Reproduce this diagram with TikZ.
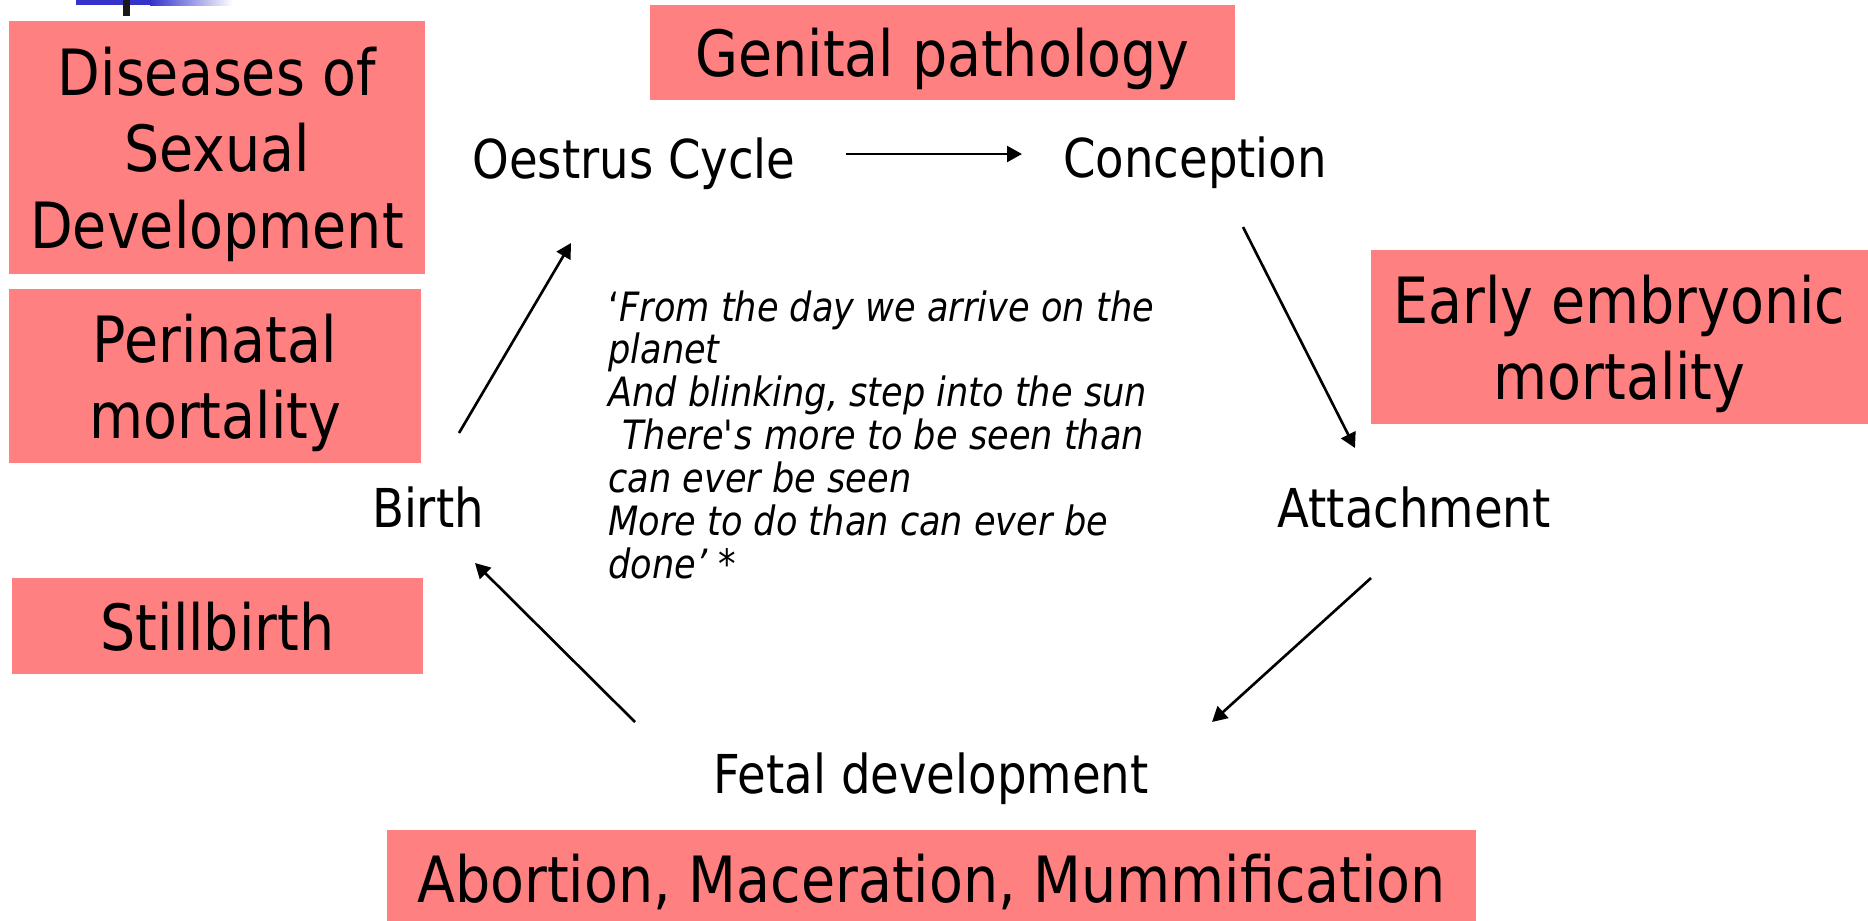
\documentclass[tikz,border=0pt]{standalone}
\usepackage{fontspec}
\setmainfont{DejaVu Sans}[FakeStretch=0.87]
\usetikzlibrary{arrows.meta,positioning}
\definecolor{boxpink}{HTML}{FF8080}
\definecolor{barblue}{HTML}{3333CC}
\newlength{\pxu}
\setlength{\pxu}{0.02cm}
\tikzset{
  stage/.style={inner sep=0pt,font=\fontsize{30.5}{36}\selectfont},
  problem/.style={rectangle,fill=boxpink,inner sep=0pt,text depth=0pt,align=center,font=\fontsize{36.3}{43.5}\selectfont},
  verse/.style={inner sep=0pt,align=left,font=\itshape\fontsize{23}{24.4}\selectfont},
  cyc/.style={-{Triangle[length=8.5pt,width=9pt]},line width=1.5pt}
}

\begin{document}
\begin{tikzpicture}[x=0.02cm,y=-0.02cm]
  \useasboundingbox (0,0) rectangle (1868,920);
  % remnant of the slide title
  \fill[barblue] (76,0) rectangle (150,5);
  \shade[left color=barblue,right color=white] (150,0) rectangle (233,5);
  \fill[black!90] (123,0) rectangle (130,16);

  % the cycle
  \node[stage,anchor=base] (oestrus) at (634,178) {Oestrus Cycle};
  \node[stage,anchor=base] (conception) at (1195,177) {Conception};
  \node[stage,anchor=base] (attachment) at (1414,527) {Attachment};
  \node[stage,anchor=base] (fetal) at (931,793) {Fetal development};
  \node[stage,anchor=base] (birth) at (428,527) {Birth};

  \node[verse,anchor=north west] (quote) at (608,290) {{\upshape‘}From the day we arrive on the\\planet\\And blinking, step into the sun\\\hspace*{8pt}There\textquotesingle s more to be seen than\\can ever be seen\\More to do than can ever be\\done’ *};

  % what goes wrong
  \node[problem,minimum width=416\pxu,minimum height=253\pxu] (dsd) at (217,147.5) {Diseases of\\Sexual\\Development};
  \node[problem,minimum width=412\pxu,minimum height=174\pxu] (perinatal) at (215,376) {Perinatal\\mortality};
  \node[problem,minimum width=411\pxu,minimum height=96\pxu] (stillbirth) at (217.5,626) {Stillbirth};
  \node[problem,minimum width=585\pxu,minimum height=95\pxu] (genital) at (942.5,52.5) {Genital pathology};
  \node[problem,minimum width=497\pxu,minimum height=174\pxu] (eem) at (1619.5,337) {Early embryonic\\mortality};
  \node[problem,minimum width=1089\pxu,minimum height=96\pxu] (abortion) at (931.5,878) {Abortion, Maceration, Mummification};

  % arrow ends
  \coordinate (oc-s) at (846,154);
  \coordinate (oc-e) at (1022,154);
  \coordinate (ca-s) at (1243,227);
  \coordinate (ca-e) at (1355,448);
  \coordinate (af-s) at (1371,578);
  \coordinate (af-e) at (1212,722);
  \coordinate (fb-s) at (635,722);
  \coordinate (fb-e) at (475,563);
  \coordinate (bo-s) at (459,433);
  \coordinate (bo-e) at (571,243);

  \draw[cyc] (oc-s) -- (oc-e);
  \draw[cyc] (ca-s) -- (ca-e);
  \draw[cyc] (af-s) -- (af-e);
  \draw[cyc] (fb-s) -- (fb-e);
  \draw[cyc] (bo-s) -- (bo-e);
\end{tikzpicture}
\end{document}
